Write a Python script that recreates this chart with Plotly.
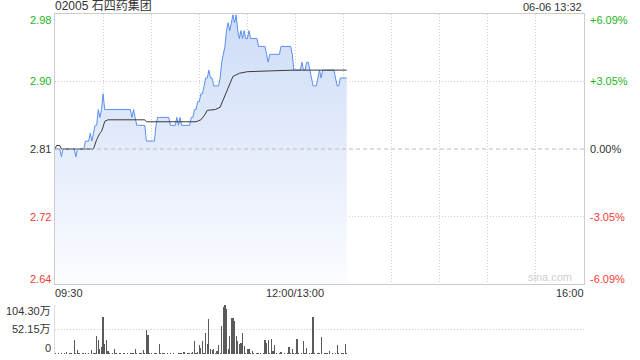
import plotly.graph_objects as go

# ---------------- data ----------------
prev_close = 2.81
pct_edge = 6.09
pct_mid = 3.05
title_text = "02005 石四药集团"
stamp_text = "06-06 13:32"
x_labels = ["09:30", "12:00/13:00", "16:00"]
x_label_pos = [0, 150, 330]
grid_minutes = [0, 30, 60, 90, 120, 150, 180, 210, 240, 270, 300, 330]
price_tick_labels = ["2.98", "2.90", "2.81", "2.72", "2.64"]
pct_tick_labels = ["+6.09%", "+3.05%", "0.00%", "-3.05%", "-6.09%"]
vol_max = 104.30
vol_tick_labels = ["104.30万", "52.15万", "0"]

# price per minute (index = trading minute from 09:30, afternoon continues at 150 = 13:00)
price = [
    2.81, 2.81, 2.81, 2.81, 2.80, 2.81, 2.81, 2.81, 2.81, 2.81,
    2.81, 2.81, 2.81, 2.80, 2.81, 2.81, 2.81, 2.81, 2.81, 2.82,
    2.82, 2.82, 2.83, 2.82, 2.83, 2.84, 2.84, 2.86, 2.85, 2.86,
    2.88, 2.86, 2.86, 2.86, 2.86, 2.86, 2.86, 2.86, 2.86, 2.86,
    2.86, 2.86, 2.86, 2.86, 2.86, 2.86, 2.86, 2.86, 2.85, 2.86,
    2.85, 2.84, 2.84, 2.84, 2.84, 2.84, 2.84, 2.82, 2.82, 2.82,
    2.82, 2.82, 2.82, 2.84, 2.85, 2.85, 2.85, 2.85, 2.85, 2.85,
    2.85, 2.85, 2.84, 2.84, 2.84, 2.84, 2.85, 2.84, 2.85, 2.84,
    2.84, 2.84, 2.84, 2.84, 2.84, 2.85, 2.85, 2.86, 2.86, 2.87,
    2.87, 2.88, 2.88, 2.89, 2.90, 2.90, 2.91, 2.90, 2.90, 2.89,
    2.89, 2.89, 2.89, 2.90, 2.92, 2.93, 2.94, 2.96, 2.97, 2.96,
    2.97, 2.98, 2.97, 2.98, 2.96, 2.95, 2.96, 2.95, 2.96, 2.95,
    2.95, 2.96, 2.95, 2.95, 2.95, 2.95, 2.95, 2.94, 2.94, 2.94,
    2.94, 2.94, 2.93, 2.92, 2.93, 2.93, 2.93, 2.93, 2.93, 2.93,
    2.93, 2.94, 2.94, 2.94, 2.94, 2.94, 2.94, 2.94, 2.93, 2.91,
    2.91, 2.91, 2.91, 2.91, 2.92, 2.91, 2.91, 2.92, 2.92, 2.91,
    2.90, 2.89, 2.89, 2.89, 2.90, 2.91, 2.90, 2.91, 2.91, 2.91,
    2.91, 2.91, 2.91, 2.91, 2.91, 2.90, 2.89, 2.89, 2.90, 2.90,
    2.90, 2.90, 2.90,
]

# volume per minute, in 万 shares
volume = [
    1.5, 1, 2, 1, 2.5, 1, 3, 4, 1, 2,
    1.5, 1, 30, 3, 7.6, 2, 1, 3, 2, 1.5,
    1, 2, 1, 7.6, 2, 3, 38, 30, 11, 14,
    78.5, 21.5, 30, 5.6, 2, 1, 2, 11, 2, 1,
    1.5, 2, 1, 3, 1, 2, 1, 1.5, 3, 2,
    11, 2, 1, 3, 2, 8, 1.5, 51, 40, 2,
    1.5, 1, 3, 2, 1, 21.5, 2, 3, 1.5, 1,
    2, 1, 1.5, 1, 2, 1, 1, 3, 2, 1.5,
    4, 4, 1, 2, 1.5, 2, 4, 28, 2, 4,
    19.5, 12.5, 28, 3, 44.5, 21.5, 73.7, 11, 9, 11,
    3, 7, 19.5, 3, 59, 99.4, 103, 94.5, 10, 38,
    75.8, 75.8, 69.5, 38, 28, 21, 23, 44.5, 16, 3,
    11, 11, 2, 7, 2, 1, 2, 1.5, 3, 1,
    2, 30, 23, 30, 3, 32, 7, 19.5, 2, 1,
    1.5, 4, 1, 2, 1, 2, 15, 3, 10, 2,
    1.5, 32, 2, 1, 3, 28, 2, 12.5, 1, 2,
    1.5, 78.5, 2, 1, 2, 3, 37, 1, 2, 1.5,
    2, 7, 1, 2, 1, 3, 19.5, 2, 1, 3,
    2, 21.5, 2,
]

# average price line, read at its turning points (minute, price)
avg_minutes = [0, 1, 3, 4, 24, 26, 28, 29, 30, 31, 33, 56, 57, 88, 91, 93, 95,
               100, 103, 107, 111, 115, 120, 134, 150, 182]
avg_price = [2.81, 2.8145, 2.8145, 2.81, 2.81, 2.822, 2.83, 2.832, 2.838, 2.845,
             2.847, 2.847, 2.8445, 2.8445, 2.847, 2.852, 2.859, 2.860, 2.863,
             2.882, 2.902, 2.906, 2.908, 2.909, 2.910, 2.910]

# ---------------- figure ----------------
minutes = list(range(len(price)))
y_top = prev_close * (1 + pct_edge / 100)
y_bot = prev_close * (1 - pct_edge / 100)
y_mid_up = prev_close * (1 + pct_mid / 100)
y_mid_dn = prev_close * (1 - pct_mid / 100)
tick_vals = [y_top, y_mid_up, prev_close, y_mid_dn, y_bot]

GREEN = "#1cb41c"
RED = "#f23c32"
DARK = "#333333"
FONT = "Arial, 'Liberation Sans', 'Noto Sans CJK SC', sans-serif"
GRID = "#cfcfcf"
BORDER = "#cccccc"

price_dom = [0.2059, 1.0]
vol_dom = [0.0, 0.145]

fig = go.Figure()

fig.add_trace(go.Scatter(
    x=minutes, y=price, mode="lines",
    line=dict(color="#5b8ff0", width=1),
    fill="tozeroy",
    fillgradient=dict(type="vertical",
                      colorscale=[[0, "#fbfcff"], [1, "#cddcf7"]],
                      start=y_bot, stop=y_top),
    hoverinfo="skip", xaxis="x", yaxis="y",
))
fig.add_trace(go.Scatter(
    x=avg_minutes, y=avg_price, mode="lines",
    line=dict(color="#3a3a3a", width=1),
    hoverinfo="skip", xaxis="x", yaxis="y",
))
fig.add_trace(go.Bar(
    x=minutes, y=volume, width=0.75,
    marker=dict(color="#5a5a5a", line=dict(width=0)),
    hoverinfo="skip", xaxis="x2", yaxis="y2",
))

fig.update_layout(
    width=640, height=360,
    margin=dict(l=55, r=56, t=14, b=6),
    paper_bgcolor="white", plot_bgcolor="rgba(0,0,0,0)",
    showlegend=False,
    font=dict(family=FONT, size=11, color=DARK),
    xaxis=dict(domain=[0, 1], range=[0, 330], anchor="y",
               tickvals=grid_minutes, showticklabels=False, ticks="",
               showgrid=True, gridcolor=GRID, griddash="1px,2px", gridwidth=1,
               zeroline=False, showline=True, mirror=True, linecolor=BORDER,
               linewidth=1, fixedrange=True),
    yaxis=dict(domain=price_dom, range=[y_bot, y_top], anchor="x",
               tickvals=[y_mid_up, y_mid_dn], showticklabels=False, ticks="",
               showgrid=True, gridcolor=GRID, griddash="1px,2px", gridwidth=1,
               zeroline=False, showline=True, mirror=True, linecolor=BORDER,
               linewidth=1, fixedrange=True),
    xaxis2=dict(domain=[0, 1], range=[0, 330], anchor="y2",
                showticklabels=False, ticks="", showgrid=False,
                zeroline=False, showline=False, fixedrange=True),
    yaxis2=dict(domain=vol_dom, range=[0, vol_max], anchor="x2",
                tickvals=[vol_max / 2, vol_max], showticklabels=False, ticks="",
                showgrid=True, gridcolor=GRID, griddash="1px,2px", gridwidth=1,
                zeroline=False, showline=True, linecolor="#dddddd",
                linewidth=1, fixedrange=True),
    bargap=0,
)

# dashed previous-close line
fig.add_shape(type="line", xref="x", yref="y", x0=0, x1=330,
              y0=prev_close, y1=prev_close,
              line=dict(color="#bbbbbb", width=1, dash="4px,3px"))

ann = []
# title and time stamp
ann.append(dict(text=title_text, xref="paper", yref="paper", x=0, y=1,
                xanchor="left", yanchor="bottom", showarrow=False,
                font=dict(size=12, color=DARK), xshift=-2, yshift=-1))
ann.append(dict(text=stamp_text, xref="paper", yref="paper", x=1, y=1,
                xanchor="right", yanchor="bottom", showarrow=False,
                font=dict(size=11, color=DARK), yshift=-1))

# price / percent labels
colors = [GREEN, GREEN, DARK, RED, RED]
shifts = [-6, 0, 0, 0, 5]
for val, pl, cl, c, s in zip(tick_vals, price_tick_labels, pct_tick_labels, colors, shifts):
    ann.append(dict(text=pl, xref="paper", yref="y", x=0, y=val,
                    xanchor="right", yanchor="middle", showarrow=False,
                    font=dict(size=11, color=c), xshift=-2, yshift=s))
    ann.append(dict(text=cl, xref="paper", yref="y", x=1, y=val,
                    xanchor="left", yanchor="middle", showarrow=False,
                    font=dict(size=11, color=c), xshift=4, yshift=s))

# time labels
anchors = ["left", "center", "right"]
for lab, pos, a in zip(x_labels, x_label_pos, anchors):
    ann.append(dict(text=lab, xref="x", yref="paper", x=pos, y=price_dom[0],
                    xanchor=a, yanchor="top", showarrow=False,
                    font=dict(size=11, color=DARK), yshift=-1,
                    xshift=-2 if a == "left" else (2 if a == "right" else 0)))

# volume labels
vol_vals = [vol_max, vol_max / 2, 0]
vol_shifts = [-6, 0, 6]
for val, lab, s in zip(vol_vals, vol_tick_labels, vol_shifts):
    ann.append(dict(text=lab, xref="paper", yref="y2", x=0, y=val,
                    xanchor="right", yanchor="middle", showarrow=False,
                    font=dict(size=11, color=DARK), xshift=-2, yshift=s))

# watermark
ann.append(dict(text="sina.com", xref="paper", yref="paper", x=1,
                y=price_dom[0], xanchor="right", yanchor="bottom",
                showarrow=False, font=dict(size=11, color="#cfcfcf"),
                xshift=-10, yshift=-1))

fig.update_layout(annotations=ann)
fig.write_html("out.html", config={"displayModeBar": False, "staticPlot": True})
